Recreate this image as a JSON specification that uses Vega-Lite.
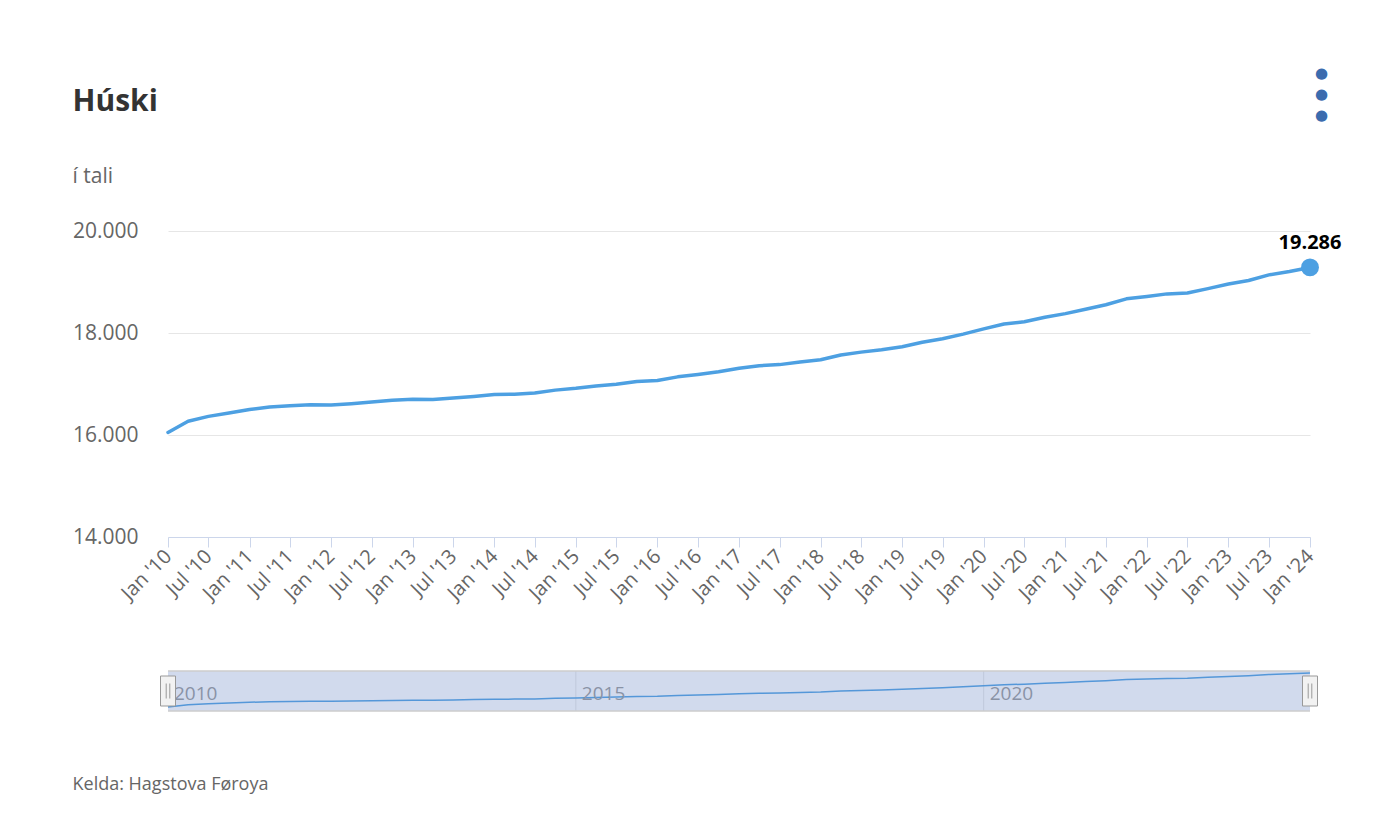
{
  "$schema": "https://vega.github.io/schema/vega-lite/v6.json",
  "autosize": {"type": "none"},
  "width": 1142,
  "height": 480,
  "padding": {"left": 168, "top": 231, "right": 70, "bottom": 119},
  "background": "white",
  "config": {
    "font": "Open Sans",
    "view": {"stroke": null},
    "locale": {"number": {"decimal": ",", "thousands": ".", "grouping": [3], "currency": ["", ""]}},
    "axis": {"labelFont": "Open Sans", "titleFont": "Open Sans"}
  },
  "datasets": {
    "series": [
      {"d": "2010-01-01", "v": 16050}, {"d": "2010-04-01", "v": 16270}, {"d": "2010-07-01", "v": 16365}, {"d": "2010-10-01", "v": 16430},
      {"d": "2011-01-01", "v": 16500}, {"d": "2011-04-01", "v": 16550}, {"d": "2011-07-01", "v": 16575}, {"d": "2011-10-01", "v": 16592},
      {"d": "2012-01-01", "v": 16590}, {"d": "2012-04-01", "v": 16615}, {"d": "2012-07-01", "v": 16645}, {"d": "2012-10-01", "v": 16680},
      {"d": "2013-01-01", "v": 16700}, {"d": "2013-04-01", "v": 16698}, {"d": "2013-07-01", "v": 16725}, {"d": "2013-10-01", "v": 16755},
      {"d": "2014-01-01", "v": 16792}, {"d": "2014-04-01", "v": 16800}, {"d": "2014-07-01", "v": 16822}, {"d": "2014-10-01", "v": 16880},
      {"d": "2015-01-01", "v": 16915}, {"d": "2015-04-01", "v": 16960}, {"d": "2015-07-01", "v": 16995}, {"d": "2015-10-01", "v": 17050},
      {"d": "2016-01-01", "v": 17068}, {"d": "2016-04-01", "v": 17140}, {"d": "2016-07-01", "v": 17188}, {"d": "2016-10-01", "v": 17240},
      {"d": "2017-01-01", "v": 17310}, {"d": "2017-04-01", "v": 17358}, {"d": "2017-07-01", "v": 17380}, {"d": "2017-10-01", "v": 17430},
      {"d": "2018-01-01", "v": 17475}, {"d": "2018-04-01", "v": 17570}, {"d": "2018-07-01", "v": 17625}, {"d": "2018-10-01", "v": 17672},
      {"d": "2019-01-01", "v": 17730}, {"d": "2019-04-01", "v": 17818}, {"d": "2019-07-01", "v": 17886}, {"d": "2019-10-01", "v": 17978},
      {"d": "2020-01-01", "v": 18080}, {"d": "2020-04-01", "v": 18175}, {"d": "2020-07-01", "v": 18222}, {"d": "2020-10-01", "v": 18310},
      {"d": "2021-01-01", "v": 18380}, {"d": "2021-04-01", "v": 18465}, {"d": "2021-07-01", "v": 18555}, {"d": "2021-10-01", "v": 18670},
      {"d": "2022-01-01", "v": 18715}, {"d": "2022-04-01", "v": 18767}, {"d": "2022-07-01", "v": 18785}, {"d": "2022-10-01", "v": 18870},
      {"d": "2023-01-01", "v": 18960}, {"d": "2023-04-01", "v": 19030}, {"d": "2023-07-01", "v": 19140}, {"d": "2023-10-01", "v": 19205},
      {"d": "2024-01-01", "v": 19286}
    ],
    "years": [
      {"d": "2010-01-01", "label": "2010"},
      {"d": "2015-01-01", "label": "2015"},
      {"d": "2020-01-01", "label": "2020"}
    ]
  },
  "resolve": {"scale": {"x": "independent", "y": "independent"}, "axis": {"x": "independent", "y": "independent"}},
  "layer": [
    {
      "layer": [
        {
          "data": {"name": "series"},
          "mark": {"type": "line", "color": "#4da0e2", "strokeWidth": 3.5, "strokeJoin": "round", "strokeCap": "round"},
          "encoding": {
            "x": {
              "field": "d", "type": "temporal",
              "scale": {"type": "utc", "domain": [{"year": 2010, "month": 1, "date": 1, "utc": true}, {"year": 2024, "month": 1, "date": 1, "utc": true}], "nice": false},
              "axis": {
                "orient": "bottom", "offset": -174, "format": "%b '%y",
                "tickCount": {"interval": "month", "step": 6},
                "labelAngle": -45, "labelAlign": "right", "labelBaseline": "middle",
                "labelFontSize": 20, "labelColor": "#666666", "labelPadding": 6,
                "labelOverlap": false, "labelFlush": false, "labelBound": false,
                "tickSize": 10, "tickColor": "#ccd6eb", "domainColor": "#ccd6eb", "grid": false,
                "title": ["●", "●", "●"], "titleX": 1153, "titleY": -465, "titleAlign": "center", "titleBaseline": "middle",
                "titleAngle": 0, "titleColor": "#3b6cae", "titleFontSize": 15, "titleLineHeight": 21,
                "titleFont": "DejaVu Sans", "titleFontWeight": "normal"
              }
            },
            "y": {
              "field": "v", "type": "quantitative",
              "scale": {"domain": [14000, 20000], "range": [306, 0], "nice": false, "zero": false},
              "axis": {
                "values": [14000, 16000, 18000, 20000], "format": ",d",
                "grid": true, "gridColor": "#e6e6e6", "domain": false, "ticks": false,
                "labelPadding": 30, "labelFontSize": 21, "labelColor": "#666666",
                "title": "í tali", "titleX": -96, "titleY": -49, "titleAngle": 0, "titleAlign": "left",
                "titleBaseline": "alphabetic", "titleFontSize": 21, "titleColor": "#666666", "titleFontWeight": "normal"
              }
            }
          }
        },
        {
          "data": {"name": "series"},
          "transform": [{"filter": "datum.v == 19286"}],
          "mark": {"type": "circle", "size": 320, "color": "#4da0e2", "opacity": 1},
          "encoding": {
            "x": {"field": "d", "type": "temporal"},
            "y": {"field": "v", "type": "quantitative"}
          }
        },
        {
          "data": {"name": "series"},
          "transform": [{"filter": "datum.v == 19286"}],
          "mark": {"type": "text", "fontSize": 20, "fontWeight": "bold", "color": "#000000", "dy": -18, "baseline": "alphabetic", "align": "center"},
          "encoding": {
            "x": {"field": "d", "type": "temporal"},
            "y": {"field": "v", "type": "quantitative"},
            "text": {"field": "v", "type": "quantitative", "format": ",d"}
          }
        }
      ]
    },
    {
      "layer": [
        {
          "data": {"name": "years"},
          "transform": [{"filter": "datum.label != '2010'"}],
          "mark": {"type": "rule", "color": "#e6e6e6", "strokeWidth": 1},
          "encoding": {
            "x": {
              "field": "d", "type": "temporal",
              "scale": {"type": "utc", "domain": [{"year": 2010, "month": 1, "date": 1, "utc": true}, {"year": 2024, "month": 1, "date": 1, "utc": true}], "nice": false},
              "axis": {
                "orient": "top", "labels": false, "ticks": false, "domain": false, "grid": false,
                "title": "Húski", "titleX": -96, "titleY": -121, "titleAngle": 0, "titleAlign": "left",
                "titleBaseline": "alphabetic", "titleFontSize": 30, "titleFontWeight": "bold", "titleColor": "#333333"
              }
            },
            "y": {
              "datum": 15669, "type": "quantitative",
              "scale": {"domain": [15669, 19476], "range": [480, 440], "nice": false, "zero": false},
              "axis": {
                "orient": "right", "labels": false, "ticks": false, "domain": false, "grid": false,
                "title": "Kelda: Hagstova Føroya", "titleX": -1238, "titleY": 558, "titleAngle": 0, "titleAlign": "left",
                "titleBaseline": "alphabetic", "titleFontSize": 18, "titleColor": "#666666", "titleFontWeight": "normal"
              }
            },
            "y2": {"datum": 19476}
          }
        },
        {
          "data": {"name": "series"},
          "mark": {"type": "line", "color": "#4da0e2", "strokeWidth": 1.5},
          "encoding": {
            "x": {"field": "d", "type": "temporal"},
            "y": {"field": "v", "type": "quantitative"}
          }
        },
        {
          "data": {"name": "years"},
          "mark": {"type": "text", "align": "left", "baseline": "middle", "dx": 6, "dy": 3, "fontSize": 19, "color": "#999999"},
          "encoding": {
            "x": {"field": "d", "type": "temporal"},
            "y": {"datum": 17572},
            "text": {"field": "label"}
          }
        },
        {
          "data": {"values": [{"a": 1}]},
          "mark": {"type": "rect", "color": "#6685c2", "fillOpacity": 0.3},
          "encoding": {
            "x": {"datum": {"year": 2010, "month": 1, "date": 1, "utc": true}, "type": "temporal"},
            "x2": {"datum": {"year": 2024, "month": 1, "date": 1, "utc": true}},
            "y": {"datum": 15669},
            "y2": {"datum": 19476}
          }
        },
        {
          "data": {"values": [{"p": 15669}, {"p": 19476}]},
          "mark": {"type": "rule", "color": "#cccccc", "strokeWidth": 1.5},
          "encoding": {
            "x": {"datum": {"year": 2010, "month": 1, "date": 1, "utc": true}, "type": "temporal"},
            "x2": {"datum": {"year": 2024, "month": 1, "date": 1, "utc": true}},
            "y": {"field": "p", "type": "quantitative"}
          }
        },
        {
          "data": {"name": "series"},
          "transform": [{"filter": "datum.v == 16050 || datum.v == 19286"}],
          "mark": {"type": "point", "shape": "M-0.5,-1H0.5V1H-0.5Z", "size": 900, "filled": true, "fill": "#f2f2f2", "stroke": "#999999", "strokeWidth": 1, "opacity": 1},
          "encoding": {
            "x": {"field": "d", "type": "temporal"},
            "y": {"datum": 17572}
          }
        },
        {
          "data": {"name": "series"},
          "transform": [{"filter": "datum.v == 16050 || datum.v == 19286"}],
          "mark": {"type": "point", "shape": "M-0.12,-0.5V0.5M0.12,-0.5V0.5", "size": 900, "filled": false, "stroke": "#999999", "strokeWidth": 1, "opacity": 1},
          "encoding": {
            "x": {"field": "d", "type": "temporal"},
            "y": {"datum": 17572}
          }
        }
      ]
    }
  ]
}
